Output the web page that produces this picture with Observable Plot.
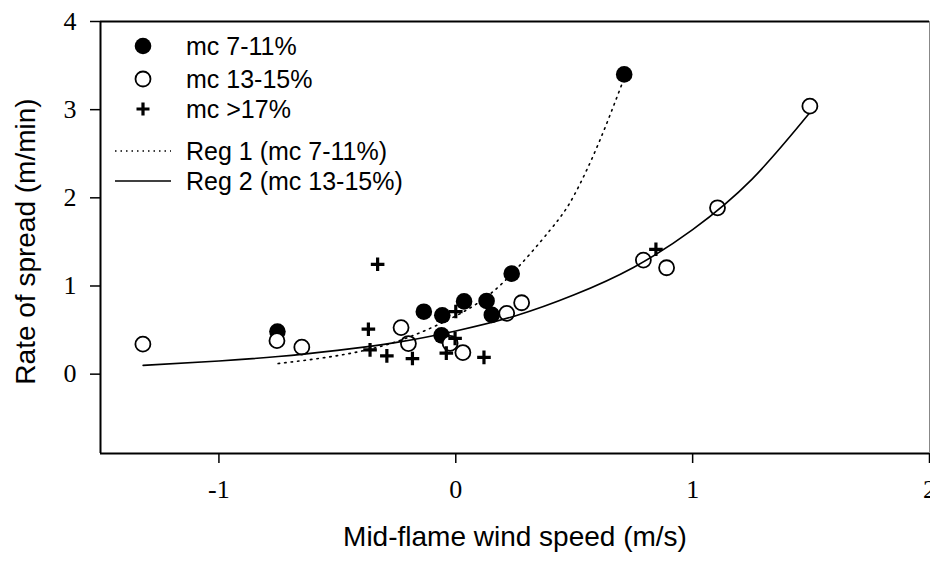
<!DOCTYPE html>
<html><head><meta charset="utf-8">
<script src="https://cdn.jsdelivr.net/npm/d3@7"></script>
<script src="https://cdn.jsdelivr.net/npm/@observablehq/plot@0.6"></script>
<style>
body{margin:0;background:#fff;overflow:hidden}
#chart{position:relative;width:930px;height:561px}
</style>
</head><body><div id="chart"></div>
<script>
// ---- data ----
const filledX = [-0.753, -0.135, -0.057, -0.060, 0.035, 0.130, 0.152, 0.236, 0.711];
const filledY = [0.483, 0.708, 0.668, 0.440, 0.825, 0.830, 0.672, 1.140, 3.400];

const openX = [-1.321, -0.755, -0.650, -0.231, -0.200, -0.024, 0.030, 0.215, 0.278, 0.792, 0.890, 1.105, 1.495];
const openY = [0.340, 0.380, 0.306, 0.528, 0.347, 0.350, 0.245, 0.690, 0.810, 1.294, 1.207, 1.887, 3.040];

const plusX = [-0.330, -0.369, -0.362, -0.291, -0.183, -0.040, -0.003, 0.000, 0.119, 0.845];
const plusY = [1.246, 0.510, 0.275, 0.207, 0.177, 0.238, 0.405, 0.710, 0.190, 1.416];

const reg1X = [-0.75, -0.5, -0.25, 0, 0.2, 0.4, 0.5, 0.6, 0.7];
const reg1Y = [0.12, 0.21, 0.37, 0.66, 1.04, 1.64, 2.03, 2.60, 3.28];

const reg2X = [-1.32, -1.0, -0.75, -0.5, -0.25, 0, 0.25, 0.5, 0.75, 1.0, 1.25, 1.49];
const reg2Y = [0.10, 0.15, 0.20, 0.27, 0.36, 0.49, 0.66, 0.90, 1.21, 1.64, 2.21, 2.95];

const xTicks = [-1, 0, 1, 2];
const yTicks = [0, 1, 2, 3, 4];
const xDomain = [-1.5, 2];
const yDomain = [-0.9, 4];

const legendLabels = ["mc 7-11%", "mc 13-15%", "mc >17%", "Reg 1 (mc 7-11%)", "Reg 2 (mc 13-15%)"];
const xTitle = "Mid-flame wind speed (m/s)";
const yTitle = "Rate of spread (m/min)";

// ---- tables ----
const filled = filledX.map((x, i) => ({x, y: filledY[i]}));
const open = openX.map((x, i) => ({x, y: openY[i]}));
const plus = plusX.map((x, i) => ({x, y: plusY[i]}));
const reg1 = reg1X.map((x, i) => ({x, y: reg1Y[i]}));
const reg2 = reg2X.map((x, i) => ({x, y: reg2Y[i]}));

const plusSymbol = {
  draw(ctx, size) {
    const r = Math.sqrt(size / Math.PI);
    ctx.moveTo(-r, 0); ctx.lineTo(r, 0);
    ctx.moveTo(0, -r); ctx.lineTo(0, r);
  }
};

const sans = "Liberation Sans, Arial, sans-serif";
const serif = "Liberation Serif, Times New Roman, serif";

const chart = Plot.plot({
  width: 930,
  height: 561,
  marginLeft: 100,
  marginRight: 1,
  marginTop: 21,
  marginBottom: 108,
  style: {fontFamily: serif, fontSize: "26px", background: "white", color: "black"},
  x: {domain: xDomain, ticks: xTicks, tickSize: 10, tickPadding: 16, tickFormat: d => `${d}`, label: null},
  y: {domain: yDomain, ticks: yTicks, tickSize: 10, tickPadding: 14, tickFormat: d => `${d}`, label: null},
  marks: [
    Plot.ruleY([yDomain[1]], {stroke: "black", strokeWidth: 2}),
    Plot.ruleX([xDomain[1]], {stroke: "#888", strokeWidth: 1}),
    Plot.ruleX([xDomain[0]], {stroke: "black", strokeWidth: 2}),
    Plot.ruleY([yDomain[0]], {stroke: "black", strokeWidth: 2}),
    Plot.dot(filled, {x: "x", y: "y", r: 8.3, fill: "black", stroke: "none"}),
    Plot.dot(open, {x: "x", y: "y", r: 7.5, fill: "white", stroke: "black", strokeWidth: 1.8}),
    Plot.dot(plus, {x: "x", y: "y", r: 6.8, symbol: plusSymbol, fill: "none", stroke: "black", strokeWidth: 3.2}),
    Plot.line(reg1, {x: "x", y: "y", curve: "natural", stroke: "black", strokeWidth: 1.6, strokeDasharray: "1.5 5"}),
    Plot.line(reg2, {x: "x", y: "y", curve: "natural", stroke: "black", strokeWidth: 1.6}),
    Plot.text([xTitle], {frameAnchor: "bottom", textAnchor: "middle", dy: 92, fontFamily: sans, fontSize: 28, fill: "black"}),
    Plot.text([yTitle], {frameAnchor: "left", textAnchor: "middle", rotate: -90, dx: -74, dy: 4, fontFamily: sans, fontSize: 28, fill: "black"})
  ]
});

document.getElementById("chart").appendChild(chart);

const svg = d3.select(chart.tagName.toLowerCase() === "svg" ? chart : chart.querySelector("svg"));
svg.selectAll("g[aria-label^='x-axis'], g[aria-label^='y-axis']")
  .attr("stroke-width", 1.5).attr("font-size", 26).attr("font-family", serif)
  .style("font-size", "26px").style("font-family", serif);
svg.selectAll("g[aria-label^='x-axis'] line, g[aria-label^='y-axis'] line").attr("stroke-width", 1.5);
svg.selectAll("g[aria-label^='x-axis'] text, g[aria-label^='y-axis'] text")
  .style("font-size", "26px").style("font-family", serif);

// ---- legend (inside plot, top-left) ----
const lg = svg.append("g").attr("font-family", sans).attr("font-size", 25).attr("fill", "black").attr("text-anchor", "start");
const symX = 143, textX = 186;
const rowY = [46, 79, 109, 151, 181];
lg.append("circle").attr("cx", symX).attr("cy", rowY[0]).attr("r", 8.3).attr("fill", "black");
lg.append("circle").attr("cx", symX).attr("cy", rowY[1]).attr("r", 7.5).attr("fill", "white").attr("stroke", "black").attr("stroke-width", 1.8);
lg.append("path").attr("d", `M${symX-6.5},${rowY[2]}H${symX+6.5}M${symX},${rowY[2]-6.5}V${rowY[2]+6.5}`).attr("stroke", "black").attr("stroke-width", 3.2).attr("fill", "none");
lg.append("line").attr("x1", 115).attr("x2", 171).attr("y1", rowY[3]).attr("y2", rowY[3]).attr("stroke", "black").attr("stroke-width", 1.5).attr("stroke-dasharray", "1.5 4");
lg.append("line").attr("x1", 115).attr("x2", 171).attr("y1", rowY[4]).attr("y2", rowY[4]).attr("stroke", "black").attr("stroke-width", 1.6);
legendLabels.forEach((t, i) => {
  lg.append("text").attr("x", textX).attr("y", rowY[i] + 8.5).attr("text-anchor", "start").text(t);
});
</script></body></html>
